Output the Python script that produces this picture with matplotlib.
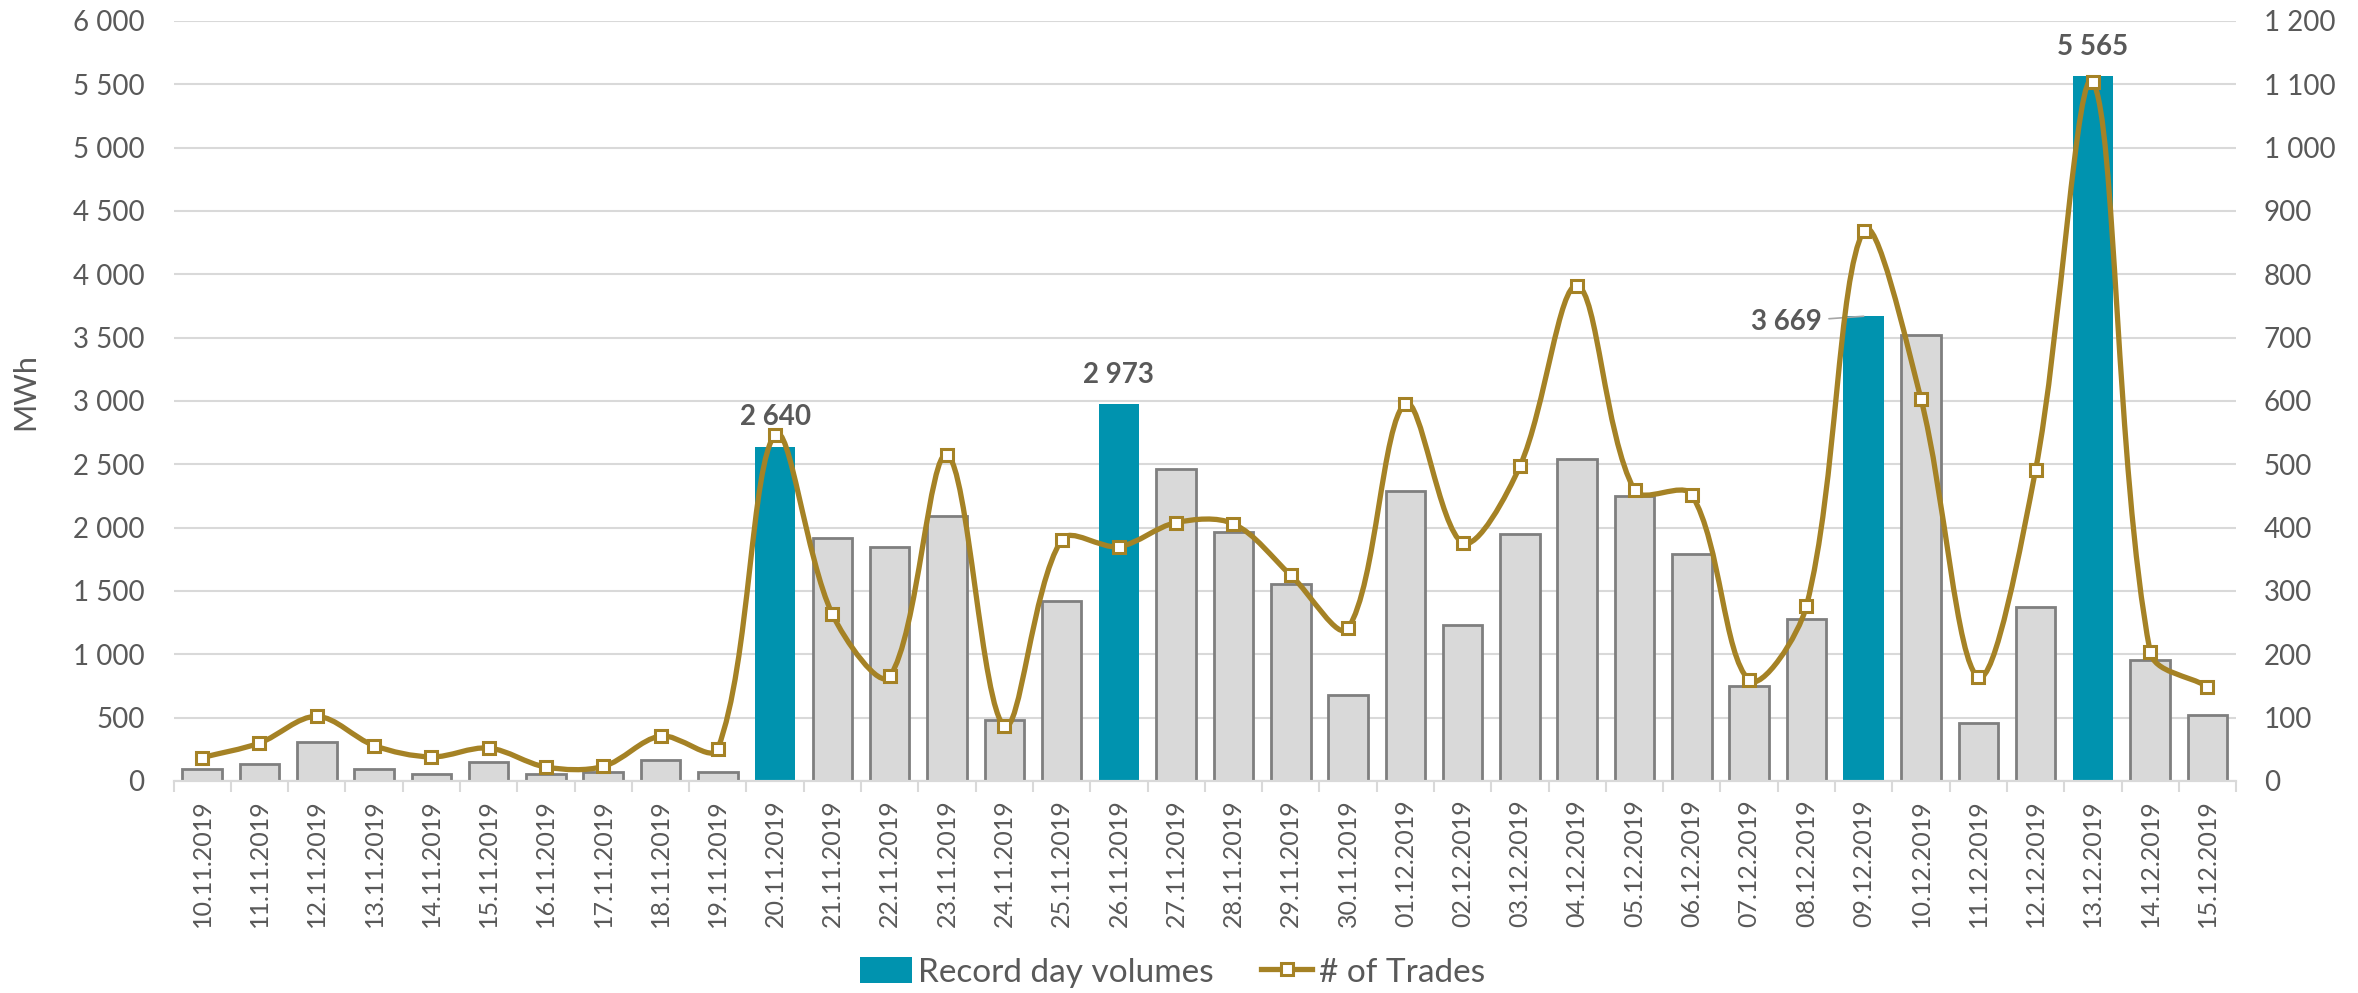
import numpy as np
from matplotlib import pyplot as plt
from matplotlib.lines import Line2D
from matplotlib.patches import Patch, PathPatch
from matplotlib.path import Path
from matplotlib.ticker import FuncFormatter, MultipleLocator

plt.rcParams["font.family"] = ["Lato", "DejaVu Sans"]

DATES = [
    "10.11.2019", "11.11.2019", "12.11.2019", "13.11.2019", "14.11.2019", "15.11.2019",
    "16.11.2019", "17.11.2019", "18.11.2019", "19.11.2019", "20.11.2019", "21.11.2019",
    "22.11.2019", "23.11.2019", "24.11.2019", "25.11.2019", "26.11.2019", "27.11.2019",
    "28.11.2019", "29.11.2019", "30.11.2019", "01.12.2019", "02.12.2019", "03.12.2019",
    "04.12.2019", "05.12.2019", "06.12.2019", "07.12.2019", "08.12.2019", "09.12.2019",
    "10.12.2019", "11.12.2019", "12.12.2019", "13.12.2019", "14.12.2019", "15.12.2019",
]
VOLUMES = [
    95, 135, 310, 93, 56, 153, 56, 68, 169, 68, 2640, 1918,
    1845, 2095, 483, 1422, 2973, 2466, 1966, 1559, 681, 2288, 1233, 1946,
    2538, 2252, 1793, 749, 1281, 3669, 3517, 459, 1374, 5565, 959, 520,
]
RECORD_DAYS = ["20.11.2019", "26.11.2019", "09.12.2019", "13.12.2019"]
TRADES = [
    37, 60, 102, 56, 38, 52, 22, 23, 71, 51, 547, 263,
    165, 515, 87, 381, 370, 408, 406, 325, 241, 596, 376, 497,
    782, 459, 452, 159, 276, 869, 603, 164, 491, 1104, 204, 149,
]

TEAL = "#0093AF"
GOLD = "#A58225"
TEXT = "#595959"
GRID = "#D9D9D9"


def space_thousands(v, _pos):
    return f"{int(v):,}".replace(",", " ")


def smooth_path(axis, xs, ys):
    # smoothed line, control arms scaled by neighbouring segment lengths on screen
    trans = axis.transData
    pts = trans.transform(np.column_stack([xs, ys]).astype(float))
    n = len(pts)
    verts = [pts[0]]
    codes = [Path.MOVETO]

    def arms(i):
        p0 = pts[max(i - 1, 0)]
        p1 = pts[i]
        p2 = pts[min(i + 1, n - 1)]
        d_in = np.hypot(*(p1 - p0))
        d_out = np.hypot(*(p2 - p1))
        tot = d_in + d_out
        if tot == 0:
            return p1, p1
        t = (p2 - p0) / tot
        return p1 - t * d_in / 3, p1 + t * d_out / 3

    for i in range(n - 1):
        _, c1 = arms(i)
        c2, _ = arms(i + 1)
        verts += [c1, c2, pts[i + 1]]
        codes += [Path.CURVE4] * 3
    verts = trans.inverted().transform(np.array(verts))
    return Path(verts, codes)


fig = plt.figure(figsize=(23.58, 9.93), dpi=100)
ax = fig.add_axes([0.0736, 0.2135, 0.8747, 0.7654])
ax2 = ax.twinx()

x = np.arange(len(DATES))
is_record = [d in RECORD_DAYS for d in DATES]
gray_x = [i for i in x if not is_record[i]]
rec_x = [i for i in x if is_record[i]]

ax.bar(gray_x, [VOLUMES[i] for i in gray_x], width=0.69, color="#D9D9D9",
       edgecolor="#7F7F7F", linewidth=2, zorder=2)
ax.bar(rec_x, [VOLUMES[i] for i in rec_x], width=0.71, color=TEAL, zorder=2)

for i in rec_x:
    if DATES[i] == "09.12.2019":
        ax.annotate(space_thousands(VOLUMES[i], None), (i, VOLUMES[i]),
                    xytext=(-30, -4), textcoords="offset points", ha="right",
                    va="center", fontsize=20, fontweight="bold", color=TEXT,
                    arrowprops=dict(arrowstyle="-", color="#A6A6A6", lw=1.2,
                                    shrinkA=3, shrinkB=0))
    else:
        ax.annotate(space_thousands(VOLUMES[i], None), (i, VOLUMES[i]),
                    xytext=(0, 21), textcoords="offset points", ha="center",
                    va="center", fontsize=20, fontweight="bold", color=TEXT)

ax.set_xlim(-0.5, len(DATES) - 0.5)
ax.set_ylim(0, 6000)
ax.yaxis.set_major_locator(MultipleLocator(500))
ax.yaxis.set_major_formatter(FuncFormatter(space_thousands))
ax.grid(axis="y", color=GRID, linewidth=1.5, zorder=0)
ax.set_axisbelow(True)

ax.set_xticks(x)
ax.set_xticklabels(DATES, rotation=90)
ax.set_xticks(np.arange(len(DATES) + 1) - 0.5, minor=True)
ax.tick_params(axis="x", which="major", length=0, pad=13, labelsize=18, labelcolor=TEXT)
ax.tick_params(axis="x", which="minor", length=8, width=1.5, color=GRID)
ax.tick_params(axis="y", length=0, pad=21, labelsize=20, labelcolor=TEXT)

ax2.set_xlim(-0.5, len(DATES) - 0.5)
ax2.set_ylim(0, 1200)
ax2.add_patch(PathPatch(smooth_path(ax2, x, TRADES), facecolor="none", edgecolor=GOLD,
                        linewidth=3.8, capstyle="round", zorder=3))
ax2.plot(x, TRADES, linestyle="none", marker="s", markersize=9,
         markerfacecolor="white", markeredgecolor=GOLD, markeredgewidth=2.2, zorder=4)
ax2.yaxis.set_major_locator(MultipleLocator(100))
ax2.yaxis.set_major_formatter(FuncFormatter(space_thousands))
ax2.tick_params(axis="y", length=0, pad=20, labelsize=20, labelcolor=TEXT)

for a in (ax, ax2):
    for side in ("top", "left", "right"):
        a.spines[side].set_visible(False)
    a.spines["bottom"].set_color(GRID)
    a.spines["bottom"].set_linewidth(1.5)

fig.text(0.0106, 0.606, "MWh", rotation=90, ha="center", va="center",
         fontsize=22, color=TEXT)

handles = [
    Patch(facecolor=TEAL, edgecolor="none"),
    Line2D([], [], color=GOLD, linewidth=3.8, marker="s", markersize=9,
           markerfacecolor="white", markeredgecolor=GOLD, markeredgewidth=2.2),
]
fig.legend(handles, ["Record day volumes", "# of Trades"], loc="center",
           bbox_to_anchor=(0.4973, 0.021), ncol=2, frameon=False, fontsize=24,
           labelcolor=TEXT, handlelength=1.55, handleheight=0.85, handletextpad=0.2,
           columnspacing=1.4, borderaxespad=0)

fig.savefig("out.png", dpi=100)
